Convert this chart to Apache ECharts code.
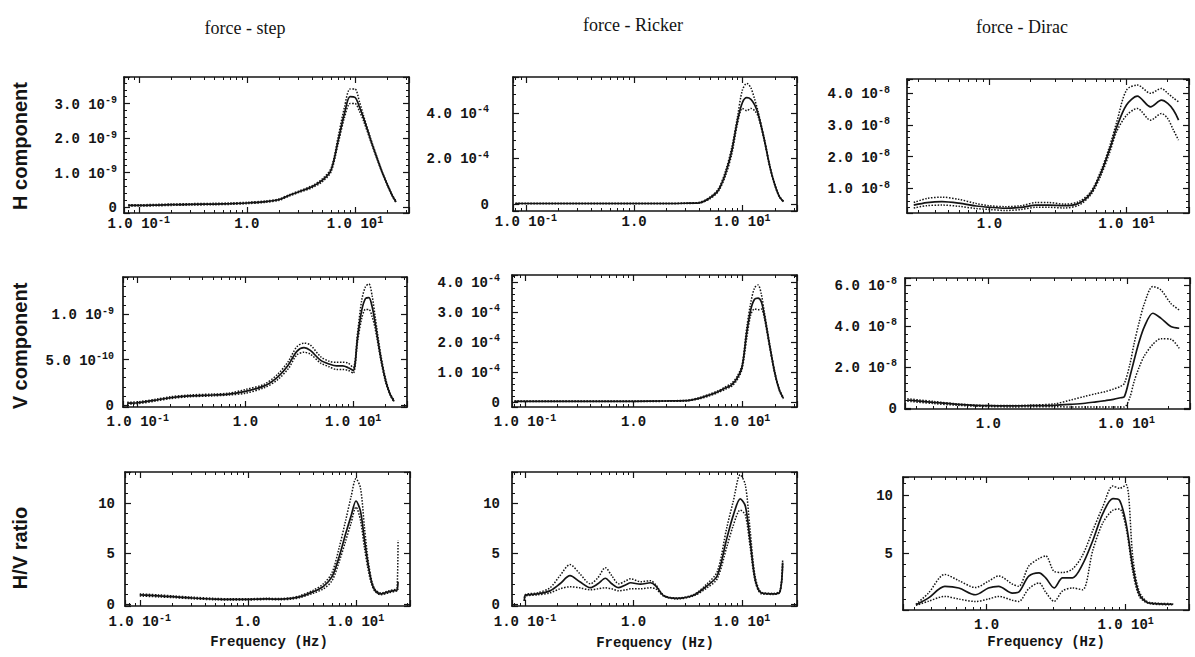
<!DOCTYPE html>
<html><head><meta charset="utf-8">
<script src="https://cdn.jsdelivr.net/npm/echarts@6/dist/echarts.min.js"></script>
<style>html,body{margin:0;padding:0;background:#fff}#c{width:1195px;height:657px}</style>
</head><body><div id="c"></div>
<script>
// ---------- column titles / row titles ----------
const columnTitles = ['force - step', 'force - Ricker', 'force - Dirac'];
const rowTitles = ['H component', 'V component', 'H/V ratio'];
const xAxisTitle = 'Frequency (Hz)';

// ---------- force - step ----------
const stepHFreq  = [0.08,0.1,0.15,0.2,0.3,0.5,0.7,1,1.5,2,2.5,3,4,5,6,7,8,9,10,11,12,14,16,18,20,22,24];
const stepHMean  = [0.05,0.05,0.06,0.07,0.08,0.09,0.1,0.12,0.16,0.22,0.35,0.44,0.59,0.78,1.07,1.94,2.72,3.2,3.18,2.9,2.58,1.94,1.42,0.98,0.64,0.35,0.15];
const stepHUpper = [0.07,0.07,0.08,0.09,0.1,0.11,0.12,0.14,0.18,0.24,0.37,0.46,0.62,0.82,1.12,2.05,2.9,3.42,3.42,3.05,2.65,1.98,1.45,1.0,0.66,0.37,0.17];
const stepHLower = [0.03,0.03,0.04,0.05,0.06,0.07,0.08,0.1,0.14,0.2,0.33,0.42,0.56,0.74,1.02,1.85,2.6,3.0,3.0,2.78,2.5,1.9,1.39,0.96,0.62,0.33,0.13];

const stepVFreq  = [0.08,0.1,0.15,0.2,0.3,0.5,0.7,1,1.5,2,2.5,3,3.5,4,5,6,7,8,9,10,11,12,13,14,15,16,18,20,22,24];
const stepVMean  = [0.02,0.025,0.055,0.08,0.1,0.11,0.12,0.15,0.21,0.31,0.44,0.59,0.63,0.6,0.49,0.45,0.43,0.43,0.41,0.38,0.75,1.04,1.17,1.18,1.08,0.9,0.53,0.27,0.12,0.04];
const stepVUpper = [0.03,0.035,0.065,0.09,0.11,0.12,0.13,0.17,0.23,0.34,0.48,0.64,0.68,0.66,0.53,0.48,0.47,0.47,0.46,0.41,0.8,1.15,1.3,1.33,1.2,0.97,0.56,0.29,0.13,0.05];
const stepVLower = [0.01,0.015,0.045,0.07,0.09,0.1,0.11,0.13,0.19,0.28,0.4,0.55,0.58,0.56,0.46,0.42,0.39,0.39,0.38,0.35,0.7,0.95,1.05,1.05,0.97,0.84,0.5,0.25,0.11,0.03];

const stepHVFreq  = [0.1,0.15,0.2,0.3,0.5,0.7,1,1.5,2,2.5,3,4,5,6,7,8,9,10,11,12,13,14,15,17,20,23,24,24.5];
const stepHVMean  = [0.9,0.8,0.72,0.6,0.48,0.46,0.46,0.5,0.48,0.55,0.7,1.2,1.75,2.7,4.7,6.9,8.7,10.2,9.2,6.3,3.8,2.1,1.35,1.0,1.2,1.35,1.4,2.2];
const stepHVUpper = [1.0,0.9,0.8,0.68,0.55,0.52,0.52,0.56,0.54,0.62,0.8,1.35,2.0,3.1,5.6,8.2,10.6,12.4,11.5,7.5,4.2,2.3,1.45,1.08,1.3,1.45,1.6,6.3];
const stepHVLower = [0.8,0.7,0.64,0.52,0.42,0.4,0.4,0.44,0.42,0.48,0.62,1.05,1.5,2.3,4.2,6.2,8.0,9.6,8.3,5.5,3.3,1.9,1.25,0.92,1.1,1.25,1.3,1.5];

// ---------- force - Ricker ----------
const rickerHFreq  = [0.08,0.1,0.2,0.5,1,2,3,4,5,6,7,8,9,10,11,12,13,14,16,18,20,22,24];
const rickerHMean  = [0.02,0.02,0.02,0.02,0.02,0.02,0.03,0.05,0.26,0.6,1.35,2.35,3.65,4.45,4.67,4.6,4.35,3.95,2.8,1.62,0.83,0.32,0.1];
const rickerHUpper = [0.03,0.03,0.03,0.03,0.03,0.03,0.04,0.07,0.3,0.66,1.45,2.5,3.8,5.0,5.3,5.1,4.6,4.05,2.85,1.66,0.86,0.34,0.12];
const rickerHLower = [0.01,0.01,0.01,0.01,0.01,0.01,0.02,0.04,0.22,0.55,1.25,2.2,3.5,4.2,4.1,4.2,4.1,3.85,2.75,1.58,0.8,0.3,0.08];

const rickerVFreq  = [0.08,0.1,0.2,0.5,1,2,3,4,5,6,7,8,9,10,11,12,13,14,15,16,18,20,22,24];
const rickerVMean  = [0.02,0.02,0.02,0.02,0.02,0.03,0.04,0.12,0.23,0.34,0.46,0.57,0.79,1.18,2.29,3.07,3.42,3.46,3.34,2.9,1.84,0.96,0.4,0.12];
const rickerVUpper = [0.03,0.03,0.03,0.03,0.03,0.04,0.05,0.14,0.26,0.37,0.5,0.62,0.85,1.25,2.45,3.3,3.8,3.9,3.6,3.0,1.9,1.0,0.42,0.14];
const rickerVLower = [0.01,0.01,0.01,0.01,0.01,0.02,0.03,0.1,0.2,0.31,0.42,0.52,0.73,1.1,2.1,2.9,3.1,3.07,3.1,2.8,1.78,0.92,0.38,0.1];

const rickerHVFreq  = [0.099,0.1,0.13,0.17,0.21,0.26,0.32,0.4,0.47,0.55,0.63,0.73,0.85,0.94,1.16,1.43,1.6,1.9,2.5,3.6,4.75,5.9,7.2,8.3,9.6,10.7,11.8,13.2,15.1,19.4,22.3,23.6];
const rickerHVMean  = [0.3,0.82,1.0,1.3,2.0,2.8,2.2,1.62,2.0,2.55,2.0,1.62,1.9,2.1,1.96,2.1,1.8,0.82,0.56,0.89,1.8,2.8,6.43,8.8,10.4,9.7,6.43,2.4,1.09,1.0,1.22,4.1];
const rickerHVUpper = [0.3,0.9,1.1,1.6,2.8,3.9,3.0,2.0,2.6,3.6,2.8,2.0,2.3,2.5,2.2,2.3,1.9,0.85,0.6,0.95,2.0,3.2,7.5,10.2,12.8,11.8,7.5,2.7,1.15,1.05,1.3,4.3];
const rickerHVLower = [0.3,0.75,0.9,1.1,1.5,1.7,1.6,1.4,1.5,1.6,1.5,1.3,1.4,1.5,1.5,1.6,1.5,0.78,0.5,0.82,1.6,2.5,5.6,7.8,9.3,8.8,5.8,2.2,1.0,0.95,1.15,3.9];

// ---------- force - Dirac ----------
const diracHFreq  = [0.28,0.35,0.45,0.6,0.8,1,1.3,1.7,2.2,2.7,3.5,4.5,5.5,6.5,7.5,8.5,10,12,15,18,20,22,24];
const diracHMean  = [0.47,0.55,0.58,0.53,0.44,0.4,0.37,0.4,0.47,0.47,0.45,0.53,0.85,1.48,2.2,2.94,3.63,3.91,3.57,3.78,3.68,3.47,3.15];
const diracHUpper = [0.55,0.68,0.72,0.65,0.52,0.45,0.42,0.45,0.55,0.55,0.5,0.58,0.9,1.55,2.3,3.1,4.1,4.26,4.0,4.15,4.0,3.85,3.73];
const diracHLower = [0.38,0.45,0.47,0.43,0.36,0.33,0.3,0.33,0.4,0.4,0.38,0.47,0.8,1.4,2.1,2.8,3.3,3.52,3.15,3.36,3.2,2.84,2.52];

const diracVFreq  = [0.26,0.4,0.6,1,1.5,2,3,4,5,6,7,8,9,9.6,10.5,11.3,12.3,13.4,15.4,17.6,20.8,23.9];
const diracVMean  = [0.39,0.27,0.18,0.11,0.1,0.11,0.13,0.18,0.23,0.3,0.36,0.42,0.5,0.55,1.5,2.34,3.25,3.97,4.62,4.38,3.97,3.89];
const diracVUpper = [0.45,0.32,0.2,0.12,0.12,0.14,0.2,0.4,0.57,0.7,0.8,0.92,1.05,1.2,2.1,3.15,4.2,5.1,5.92,5.76,5.1,4.78];
const diracVLower = [0.33,0.22,0.13,0.07,0.05,0.06,0.06,0.05,0.05,0.05,0.05,0.05,0.05,0.05,0.5,1.3,2.0,2.55,3.1,3.38,3.35,2.91];

const diracHVFreq  = [0.31,0.38,0.5,0.63,0.83,1.03,1.22,1.53,1.7,2.01,2.38,2.66,3.06,3.52,4.15,4.9,5.8,6.85,8.1,9.05,10.1,11.3,12.6,14.9,22];
const diracHVMean  = [0.5,1.08,2.1,1.96,1.37,1.96,2.1,1.52,1.6,2.98,3.27,2.84,1.96,2.84,2.84,4.0,6.05,8.4,9.7,9.56,7.5,3.7,1.37,0.64,0.55];
const diracHVUpper = [0.55,1.5,3.13,2.6,2.0,2.54,3.0,2.3,2.1,3.86,4.5,4.74,3.4,3.3,3.6,4.8,6.93,9.0,10.8,10.6,10.9,4.5,1.6,0.7,0.6];
const diracHVLower = [0.45,0.8,1.23,1.0,0.79,1.0,1.23,0.9,0.79,1.9,2.4,1.6,0.8,1.7,1.96,1.8,5.2,7.6,8.7,8.8,7.1,3.3,1.2,0.6,0.5];

// ---------- axis scales (values in each panel's unit) ----------
const xRanges = [[0.073, 31.6], [0.076, 32], [0.25, 28.6]];
const yUnits  = [1e-9, 1e-4, 1e-8, 1e-9, 1e-4, 1e-8, 1, 1, 1];
const yMins   = [-0.17, -0.31, 0.22, -0.022, -0.17, -0.05, -0.2, -0.2, 0.05];
const yMaxs   = [3.77, 5.58, 4.45, 1.407, 4.23, 6.34, 13.07, 13.07, 11.58];
const ySteps  = [1, 2, 1, 0.5, 1, 2, 5, 5, 5];

// ---------- layout (pixels) ----------
const boxes = [[124,77,409,213],[513,77,797,211],[907,79,1189,213],
               [123,277,407,407],[512,275,797,407],[905,278,1190,409],
               [125,472,410,606],[512,472,797,606],[903,477,1189,610]];
const yLabelMargins = [7, 24, 17, 9, 12, 8, 10, 12, 10];
const xLabelMargins = [2, 2, 2, 6, 6, 6, 7, 7, 6];
const ySplitNumbers = [4, 3, 4, 3, 4, 3, 2, 2, 2];

const panelData = [
  [stepHFreq, stepHMean, stepHUpper, stepHLower],
  [rickerHFreq, rickerHMean, rickerHUpper, rickerHLower],
  [diracHFreq, diracHMean, diracHUpper, diracHLower],
  [stepVFreq, stepVMean, stepVUpper, stepVLower],
  [rickerVFreq, rickerVMean, rickerVUpper, rickerVLower],
  [diracVFreq, diracVMean, diracVUpper, diracVLower],
  [stepHVFreq, stepHVMean, stepHVUpper, stepHVLower],
  [rickerHVFreq, rickerHVMean, rickerHVUpper, rickerHVLower],
  [diracHVFreq, diracHVMean, diracHVUpper, diracHVLower]
];

const ink = '#141414';
const labelFont = '"Liberation Mono", "DejaVu Sans Mono", monospace';
const labelRich = {
  m: {fontFamily: labelFont, fontWeight: 'bold', fontSize: 14, color: ink, lineHeight: 16, verticalAlign: 'bottom'},
  s: {fontFamily: labelFont, fontWeight: 'bold', fontSize: 10, color: ink, lineHeight: 16, verticalAlign: 'top'}
};
function sci(v){
  if (Math.abs(v) < 1e-25) return '{m|0}';
  const e = Math.floor(Math.log10(Math.abs(v)) + 1e-6);
  const m = v / Math.pow(10, e);
  return '{m|' + m.toFixed(1) + ' 10}{s|' + e + '}';
}
function xLabel(v){
  const l = Math.log10(v), e = Math.round(l);
  if (Math.abs(l - e) > 1e-6) return '';
  if (e === 0) return '{m|1.0}';
  return '{m|1.0 10}{s|' + e + '}';
}

const grid = [], xAxis = [], yAxis = [], series = [];
panelData.forEach((pd, i) => {
  const col = i % 3;
  const [l, t, r, b] = boxes[i];
  grid.push({left: l, top: t, width: r - l, height: b - t, containLabel: false});
  const xr = xRanges[col];
  const lineStyle = {color: ink, width: 1.7};
  const xBase = {
    type: 'log', logBase: 10, min: xr[0], max: xr[1], gridIndex: i,
    axisLine: {show: true, onZero: false, lineStyle},
    axisTick: {show: true, inside: true, length: 6, lineStyle: {color: ink, width: 1.2}},
    minorTick: {show: true, splitNumber: 9, length: 3, lineStyle: {color: ink, width: 1}},
    splitLine: {show: false}, minorSplitLine: {show: false}
  };
  xAxis.push(Object.assign({}, xBase, {position: 'bottom',
    axisLabel: {show: true, margin: xLabelMargins[i], formatter: xLabel, rich: labelRich,
      showMinLabel: true, showMaxLabel: true, hideOverlap: false}}));
  xAxis.push(Object.assign({}, xBase, {position: 'top', axisLabel: {show: false}}));
  const unit = yUnits[i], step = ySteps[i];
  const yBase = {
    type: 'value', min: yMins[i], max: yMaxs[i], splitNumber: ySplitNumbers[i], gridIndex: i,
    axisLine: {show: true, onZero: false, lineStyle},
    axisTick: {show: true, inside: true, length: 6, lineStyle: {color: ink, width: 1.2}},
    minorTick: {show: true, splitNumber: 5, length: 3, lineStyle: {color: ink, width: 1}},
    splitLine: {show: false}, minorSplitLine: {show: false}
  };
  yAxis.push(Object.assign({}, yBase, {position: 'left',
    axisLabel: {show: true, margin: yLabelMargins[i], rich: labelRich, hideOverlap: false,
      formatter: v => {
        const k = v / step;
        if (Math.abs(k - Math.round(k)) > 1e-6) return '';
        if (unit === 1) return '{m|' + Math.round(v) + '}';
        return sci(Math.round(k) * step * unit);
      }}}));
  yAxis.push(Object.assign({}, yBase, {position: 'right', axisLabel: {show: false}}));
  const [freq, mean, upper, lower] = pd;
  const mk = (vals, dotted) => ({
    type: 'line', xAxisIndex: 2 * i, yAxisIndex: 2 * i, showSymbol: false, symbol: 'none',
    smooth: 0.3, clip: true, silent: true,
    lineStyle: {color: ink, width: dotted ? 1.5 : 1.7, type: dotted ? 'dotted' : 'solid'},
    data: freq.map((f, k) => [f, vals[k]])
  });
  series.push(mk(upper, true), mk(lower, true), mk(mean, false));
});

const titleX = [245, 633, 1022];
const titleY = [28, 25, 27];
const rowY = [146, 346, 548];
const freqLabelPos = [[269, 642], [655, 643], [1046, 642]];
const graphic = [];
columnTitles.forEach((t, c) => graphic.push({type: 'text', x: titleX[c], y: titleY[c],
  style: {text: t, align: 'center', verticalAlign: 'middle', fill: ink,
    font: '18px "Liberation Serif", "DejaVu Serif", serif'}}));
rowTitles.forEach((t, r) => graphic.push({type: 'text', x: 20, y: rowY[r], rotation: Math.PI / 2,
  style: {text: t, align: 'center', verticalAlign: 'middle', fill: ink,
    font: 'bold 20px "Liberation Sans", "DejaVu Sans", sans-serif'}}));
freqLabelPos.forEach(p => graphic.push({type: 'text', x: p[0], y: p[1],
  style: {text: xAxisTitle, align: 'center', verticalAlign: 'middle', fill: ink,
    font: 'bold 14px "Liberation Mono", "DejaVu Sans Mono", monospace'}}));

const chart = echarts.init(document.getElementById('c'), null, {renderer: 'svg', width: 1195, height: 657});
chart.setOption({
  backgroundColor: '#ffffff',
  animation: false,
  grid, xAxis, yAxis, series, graphic
});
</script></body></html>
